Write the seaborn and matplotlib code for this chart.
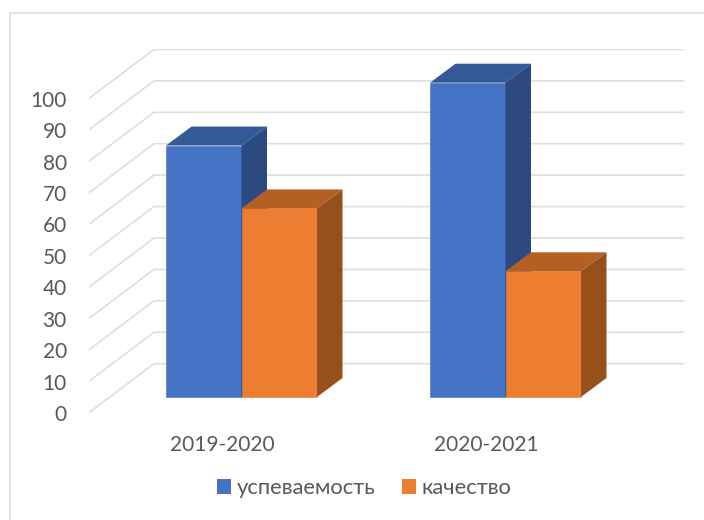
import matplotlib
matplotlib.use('Agg')
import matplotlib.pyplot as plt
import matplotlib.transforms as mtrans
from matplotlib.lines import Line2D
from matplotlib.patches import Polygon
import pandas as pd
import seaborn as sns

# Chart data
years = ['2019-2020', '2020-2021']
uspevaemost = [80, 100]
kachestvo = [60, 40]
y_ticks = [0, 10, 20, 30, 40, 50, 60, 70, 80, 90, 100]

series_names = ['успеваемость', 'качество']
front_colors = ['#4472C4', '#ED7D31']
top_colors = ['#335A96', '#B45F23']
side_colors = ['#2C4A80', '#97501C']
grid_color = '#DEDEDE'
text_color = '#595959'

W, H = 704, 520
sns.set_theme(style='white')
plt.rcParams['font.family'] = ['Lato', 'DejaVu Sans']

df = pd.DataFrame({
    'year': years * 2,
    'series': [series_names[0]] * 2 + [series_names[1]] * 2,
    'value': uspevaemost + kachestvo,
})

fig = plt.figure(figsize=(W / 100, H / 100), dpi=100, facecolor='white')

# axes box in pixels: left 89, right 684, top 49, bottom 412.7
ax = fig.add_axes([89 / W, 1 - 412.7 / H, (684 - 89) / W, (412.7 - 49) / H])
ax.patch.set_alpha(0)

sns.barplot(data=df, x='year', y='value', hue='series', order=years,
            hue_order=series_names, palette=front_colors, width=0.572,
            gap=0, saturation=1, linewidth=0, ax=ax)

# one category = 264 px, one value unit = 3.143 px
px_x = 1 / 264
px_y = 1 / 3.143
ax.set_xlim(-152.5 * px_x, 1 + 178.5 * px_x)
ax.set_ylim(-15.7 * px_y, 348 * px_y)

# 3D look: side and top faces built from the bars seaborn drew
dx = 25.5 * px_x
dy = 19 * px_y
for i, container in enumerate(ax.containers):
    for bar in container:
        x0 = bar.get_x()
        x1 = x0 + bar.get_width()
        h = bar.get_height()
        bar.set_zorder(3 + i)
        # thin edge of the same colour closes the seam between the two bars
        bar.set_edgecolor(front_colors[i])
        bar.set_linewidth(0.4)
        ax.add_patch(Polygon([(x0, h), (x1, h), (x1 + dx, h + dy), (x0 + dx, h + dy)],
                             facecolor=top_colors[i], edgecolor='none', zorder=3 + i))
        ax.add_patch(Polygon([(x1, 0), (x1 + dx, dy), (x1 + dx, h + dy), (x1, h)],
                             facecolor=side_colors[i], edgecolor='none', zorder=3 + i))

# gridlines run from the front left corner, back, then along the wall
x_front, x_right = ax.get_xlim()
x_back = x_front + 65 * px_x
for t in y_ticks:
    ax.plot([x_front, x_back, x_right],
            [t - 15.7 * px_y, t + 33.3 * px_y, t + 33.3 * px_y],
            color=grid_color, lw=1.2, zorder=1, solid_joinstyle='miter')

ax.set_xlabel('')
ax.set_ylabel('')
ax.set_yticks(y_ticks)
sns.despine(ax=ax, left=True, bottom=True)
ax.tick_params(axis='both', length=0, labelsize=15, labelcolor=text_color)
ax.tick_params(axis='y', pad=16)
ax.tick_params(axis='x', pad=0)

# labels sit on the front plane, not the bar plane
y_shift = mtrans.ScaledTranslation(0, -16 / 100, fig.dpi_scale_trans)
for label in ax.get_yticklabels():
    label.set_transform(label.get_transform() + y_shift)
x_shift = mtrans.ScaledTranslation(-19.5 / 100, -22 / 100, fig.dpi_scale_trans)
for label in ax.get_xticklabels():
    label.set_transform(label.get_transform() + x_shift)

handles, labels = ax.get_legend_handles_labels()
ax.legend(handles, labels, ncol=2, frameon=False, fontsize=15.8,
          labelcolor=text_color, handlelength=0.64, handleheight=0.64,
          handletextpad=0.27, columnspacing=1.18, borderpad=0, borderaxespad=0,
          loc='center', bbox_to_anchor=(364.5 / W, 1 - 488 / H),
          bbox_transform=fig.transFigure)

# chart frame, only top and left show in the crop
fig.add_artist(Line2D([10 / W, 10 / W, 1], [0, 1 - 12.5 / H, 1 - 12.5 / H],
                      color='#DCDCDC', lw=1.1))

fig.savefig('out.png', dpi=100)
